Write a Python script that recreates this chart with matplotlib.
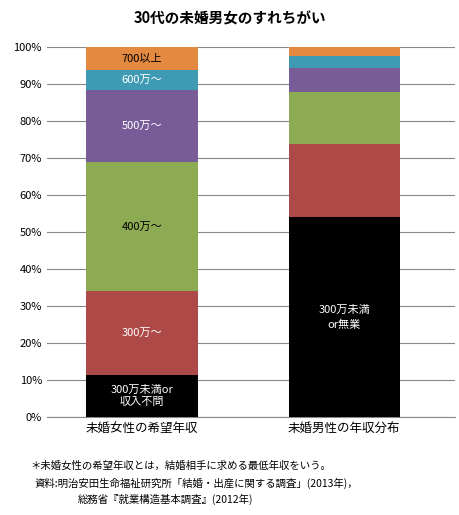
import matplotlib.pyplot as plt
import numpy as np

plt.rcParams['font.family'] = ['Noto Sans CJK JP', 'DejaVu Sans']

groups = ['未婚女性の希望年収', '未婚男性の年収分布']
segments = ['300万未満', '300万～', '400万～', '500万～', '600万～', '700以上']
colors = ['#000000', '#ad4a47', '#8dab53', '#775c97', '#3f9ab3', '#e48a40']
women = [11.4, 22.7, 34.8, 19.5, 5.4, 6.2]
men = [54.1, 19.7, 14.0, 6.5, 3.3, 2.4]
women_labels = ['300万未満or\n収入不問', '300万～', '400万～', '500万～', '600万～', '700以上']
label_colors = ['white', 'white', 'black', 'white', 'white', 'black']

fig = plt.figure(figsize=(4.6, 5.15), dpi=100)
ax = fig.add_axes([0.102, 0.19, 0.888, 0.719])

x = np.arange(len(groups))
bottoms = np.zeros(2)
for i, seg in enumerate(segments):
    vals = np.array([women[i], men[i]])
    ax.bar(x, vals, 0.55, bottom=bottoms, color=colors[i], zorder=3)
    ax.text(x[0], bottoms[0] + vals[0] / 2, women_labels[i], ha='center', va='center',
            fontsize=8, color=label_colors[i], zorder=4)
    bottoms += vals
ax.text(x[1], men[0] / 2, '300万未満\nor無業', ha='center', va='center',
        fontsize=8, color='white', zorder=4, linespacing=1.6)

ax.set_ylim(0, 100)
ax.set_xlim(-0.47, 1.55)
ax.set_yticks(np.arange(0, 101, 10))
ax.set_yticklabels([f'{v}%' for v in range(0, 101, 10)], fontsize=8)
ax.set_xticks(x)
ax.set_xticklabels(groups, fontsize=9)
ax.yaxis.grid(True, color='#888888', linewidth=0.8, zorder=0)
ax.tick_params(axis='both', length=0)
for s in ['top', 'right', 'left']:
    ax.spines[s].set_visible(False)
ax.spines['bottom'].set_color('#888888')

fig.text(0.5, 0.965, '30代の未婚男女のすれちがい', ha='center', va='center',
         fontsize=10.5, fontweight='bold')
fig.text(0.065, 0.095, '＊未婚女性の希望年収とは，結婚相手に求める最低年収をいう。',
         fontsize=7.5, va='center')
fig.text(0.075, 0.062, '資料:明治安田生命福祉研究所「結婚・出産に関する調査」(2013年)，',
         fontsize=7.5, va='center')
fig.text(0.17, 0.03, '総務省『就業構造基本調査』(2012年)', fontsize=7.5, va='center')

fig.savefig('out.png', dpi=100)
